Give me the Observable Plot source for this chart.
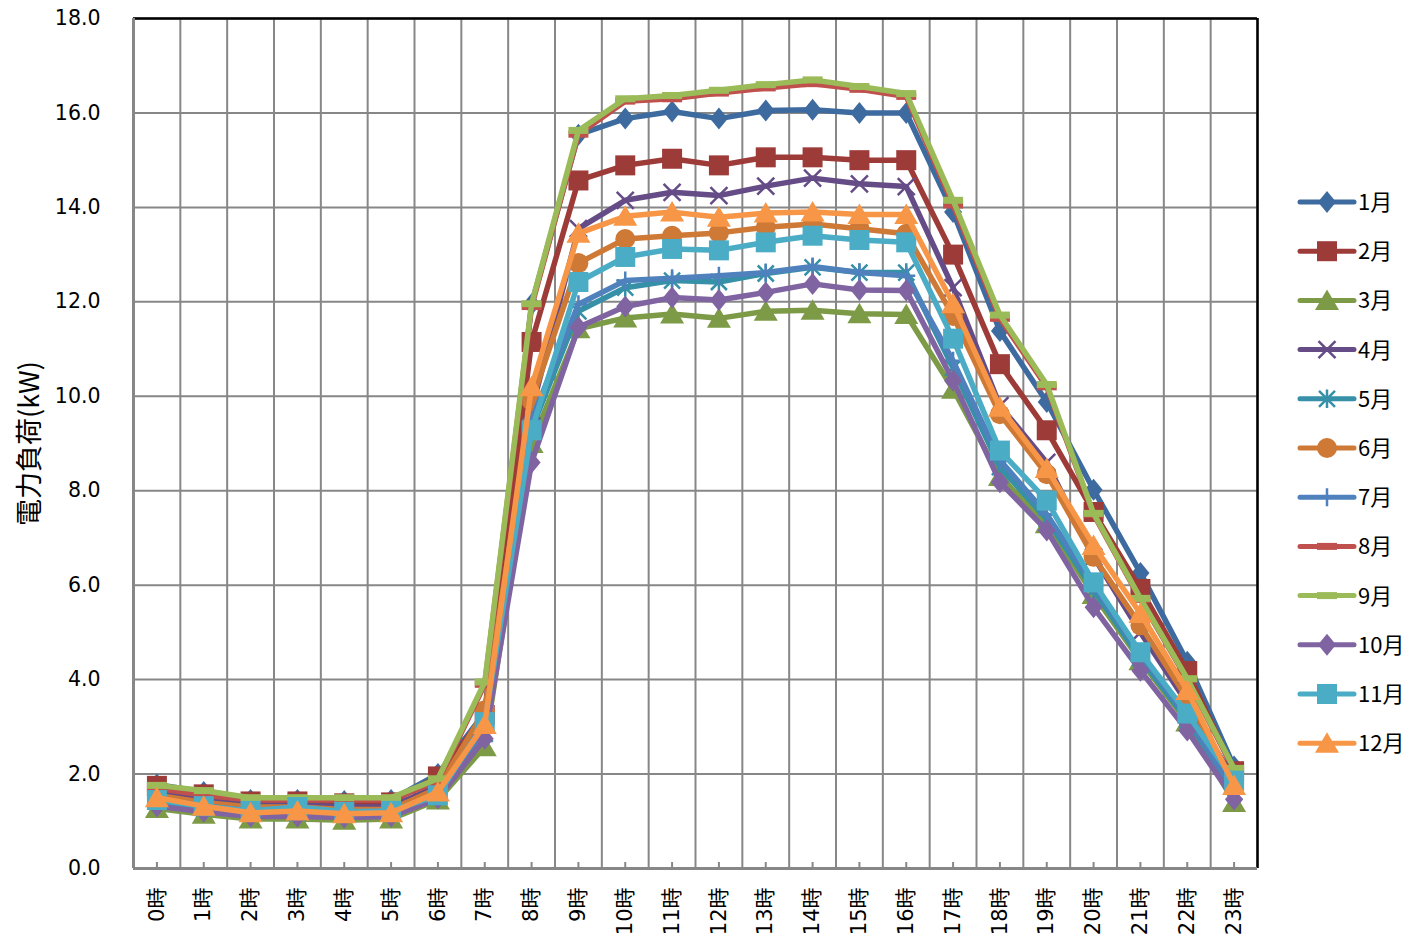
<!DOCTYPE html>
<html>
<head>
<meta charset="utf-8">
<script src="https://cdn.jsdelivr.net/npm/d3@7"></script>
<script src="https://cdn.jsdelivr.net/npm/@observablehq/plot@0.6"></script>
<style>
  body { margin: 0; background: #fff; }
  #wrap { position: relative; width: 1412px; height: 943px; }
  #legend { position: absolute; left: 1290px; top: 178px; }
</style>
</head>
<body>
<div id="wrap">
  <div id="chart"></div>
  <svg id="legend" width="122" height="600"></svg>
</div>
<script>
// Hour-of-day categories and month series names
const hours = ["0時","1時","2時","3時","4時","5時","6時","7時","8時","9時","10時","11時",
               "12時","13時","14時","15時","16時","17時","18時","19時","20時","21時","22時","23時"];
const months = ["1月","2月","3月","4月","5月","6月","7月","8月","9月","10月","11月","12月"];

// Average electric load (kW) per hour, one array per month
const m01 = [1.78,1.62,1.45,1.45,1.43,1.45,2.00,3.30,11.95,15.54,15.88,16.03,15.88,16.05,16.07,16.00,16.00,13.90,11.38,9.88,8.02,6.26,4.38,2.16];
const m02 = [1.75,1.57,1.42,1.42,1.38,1.40,1.95,3.25,11.15,14.57,14.89,15.03,14.89,15.06,15.06,15.00,15.00,13.00,10.68,9.28,7.55,5.92,4.18,2.06];
const m03 = [1.27,1.15,1.05,1.05,1.02,1.05,1.45,2.58,9.00,11.43,11.66,11.74,11.65,11.80,11.82,11.75,11.73,10.15,8.30,7.30,5.80,4.40,3.10,1.40];
const m04 = [1.60,1.45,1.35,1.35,1.30,1.30,1.75,3.10,9.70,13.55,14.15,14.32,14.25,14.45,14.62,14.50,14.44,12.30,9.80,8.60,6.60,5.00,3.50,1.90];
const m05 = [1.42,1.28,1.18,1.18,1.15,1.15,1.52,2.85,9.30,11.80,12.30,12.45,12.42,12.60,12.73,12.62,12.62,10.60,8.50,7.40,5.90,4.45,3.15,1.62];
const m06 = [1.55,1.40,1.30,1.30,1.25,1.25,1.70,3.35,9.90,12.82,13.33,13.40,13.46,13.58,13.65,13.55,13.44,11.70,9.62,8.35,6.60,5.15,3.60,1.80];
const m07 = [1.48,1.33,1.22,1.22,1.18,1.18,1.58,2.95,9.50,11.95,12.45,12.50,12.55,12.62,12.75,12.62,12.55,10.75,8.65,7.50,6.00,4.55,3.20,1.65];
const m08 = [1.70,1.55,1.45,1.45,1.45,1.45,1.85,3.90,11.90,15.55,16.25,16.30,16.42,16.53,16.62,16.50,16.35,14.05,11.65,10.20,7.50,5.70,4.00,2.08];
const m09 = [1.76,1.65,1.50,1.50,1.50,1.50,1.90,3.95,11.96,15.63,16.30,16.37,16.48,16.60,16.70,16.56,16.41,14.15,11.72,10.25,7.52,5.72,4.02,2.12];
const m10 = [1.32,1.20,1.10,1.10,1.08,1.10,1.48,2.75,8.60,11.46,11.90,12.09,12.04,12.20,12.38,12.25,12.24,10.33,8.18,7.16,5.53,4.19,2.92,1.46];
const m11 = [1.45,1.32,1.22,1.30,1.20,1.22,1.55,3.10,9.28,12.42,12.95,13.12,13.09,13.26,13.40,13.31,13.26,11.22,8.85,7.79,6.06,4.58,3.28,1.86];
const m12 = [1.50,1.32,1.18,1.22,1.16,1.18,1.62,3.05,10.20,13.45,13.81,13.90,13.79,13.88,13.90,13.85,13.85,11.96,9.77,8.47,6.84,5.40,3.77,1.76];
const series = [m01,m02,m03,m04,m05,m06,m07,m08,m09,m10,m11,m12];

// Y-axis tick values
const yTicks = [0,2,4,6,8,10,12,14,16,18];

const colors = ["#3D6A9F","#9D3B38","#7D9A46","#654C86","#3590A8","#CE7935",
                "#4F81BD","#C0504D","#9BBB59","#8064A2","#4BACC6","#F79646"];

// Marker shapes (d3 symbol-type objects), sized from r = sqrt(size/π)
const rad = size => Math.sqrt(size / Math.PI);
const symDiamond = { draw(c, s) { const r = rad(s); c.moveTo(0,-1.1*r); c.lineTo(0.9*r,0); c.lineTo(0,1.1*r); c.lineTo(-0.9*r,0); c.closePath(); } };
const symSquare  = { draw(c, s) { const r = rad(s); c.rect(-r,-r,2*r,2*r); } };
const symTri     = { draw(c, s) { const r = rad(s); c.moveTo(0,-1.1*r); c.lineTo(1.2*r,0.95*r); c.lineTo(-1.2*r,0.95*r); c.closePath(); } };
const symTimes   = { draw(c, s) { const r = rad(s)*0.85; c.moveTo(-r,-r); c.lineTo(r,r); c.moveTo(r,-r); c.lineTo(-r,r); } };
const symAster   = { draw(c, s) { const r = rad(s)*0.8; c.moveTo(-r,-r); c.lineTo(r,r); c.moveTo(r,-r); c.lineTo(-r,r); c.moveTo(0,-1.15*r); c.lineTo(0,1.15*r); } };
const symCircle  = { draw(c, s) { const r = rad(s); c.moveTo(r,0); c.arc(0,0,r,0,2*Math.PI); } };
const symPlus    = { draw(c, s) { const r = rad(s)*0.9; c.moveTo(0,-r); c.lineTo(0,r); c.moveTo(-r,0); c.lineTo(r,0); } };
const symDash    = { draw(c, s) { const r = rad(s); c.rect(-r,-0.35*r,2*r,0.7*r); } };

const markers = [symDiamond,symSquare,symTri,symTimes,symAster,symCircle,
                 symPlus,symDash,symDash,symDiamond,symSquare,symTri];
const strokedMarker = [false,false,false,true,true,false,true,false,false,false,false,false];

const gridColor = "#878787";
const boundaries = d3.range(hours.length + 1).map(i => i - 0.5);

// Each month: its line, then its markers on top (later months overlay earlier ones)
const seriesMarks = months.flatMap((m, j) => {
  const rows = hours.map((h, i) => ({h: i, v: series[j][i]}));
  const dotOpts = strokedMarker[j]
    ? {x: "h", y: "v", symbol: markers[j], r: 10, fill: "none", stroke: colors[j], strokeWidth: 2.5}
    : {x: "h", y: "v", symbol: markers[j], r: 10, fill: colors[j], stroke: "none"};
  return [
    Plot.line(rows, {x: "h", y: "v", stroke: colors[j], strokeWidth: 5.5, strokeLinejoin: "round", strokeLinecap: "round"}),
    Plot.dot(rows, dotOpts)
  ];
});

const chart = Plot.plot({
  width: 1412,
  height: 943,
  marginLeft: 133,
  marginRight: 155,
  marginTop: 18,
  marginBottom: 75,
  style: {fontFamily: "'DejaVu Sans', 'Noto Sans CJK JP', sans-serif", color: "#000", background: "#fff"},
  x: {domain: [-0.5, hours.length - 0.5]},
  y: {domain: [0, 18]},
  marks: [
    Plot.gridY(yTicks, {stroke: gridColor, strokeOpacity: 1, strokeWidth: 2}),
    Plot.gridX(boundaries, {stroke: gridColor, strokeOpacity: 1, strokeWidth: 2}),
    Plot.ruleY([18], {stroke: "#000", strokeWidth: 2.5}),
    Plot.ruleX([hours.length - 0.5], {stroke: "#000", strokeWidth: 2.5}),
    Plot.ruleX([-0.5], {stroke: gridColor, strokeWidth: 3}),
    Plot.ruleY([0], {stroke: gridColor, strokeWidth: 3}),
    Plot.axisY({ticks: yTicks, tickFormat: d3.format(".1f"), tickSize: 0, tickPadding: 33,
                fontSize: 20.5, label: null}),
    Plot.axisX({ticks: d3.range(hours.length), tickFormat: i => hours[i], tickRotate: -90,
                tickSize: -6, tickPadding: 25, stroke: gridColor, strokeWidth: 2,
                fontSize: 21, label: null}),
    Plot.text(["電力負荷(kW)"], {frameAnchor: "left", rotate: -90, dx: -103, textAnchor: "middle",
                fontSize: 27, fontFamily: "'Noto Sans CJK JP', sans-serif", fill: "#000"}),
    ...seriesMarks
  ]
});
document.getElementById("chart").append(chart);

// Legend: line swatch with marker, then month name
const lg = d3.select("#legend");
const rowStep = 49.2;
months.forEach((m, j) => {
  const y = 24 + j * rowStep;
  const g = lg.append("g").attr("transform", `translate(0,${y})`);
  g.append("line").attr("x1", 10).attr("x2", 64).attr("y1", 0).attr("y2", 0)
    .attr("stroke", colors[j]).attr("stroke-width", 5).attr("stroke-linecap", "round");
  const p = g.append("path").attr("transform", "translate(37,0)")
    .attr("d", d3.symbol(markers[j], 100 * Math.PI)());
  if (strokedMarker[j]) p.attr("fill", "none").attr("stroke", colors[j]).attr("stroke-width", 2.5);
  else p.attr("fill", colors[j]);
  g.append("text").attr("x", 68).attr("y", 0).attr("dy", "0.36em")
    .attr("font-family", "'Noto Sans CJK JP', sans-serif").attr("font-size", 22)
    .attr("fill", "#000").text(m);
});
</script>
</body>
</html>
